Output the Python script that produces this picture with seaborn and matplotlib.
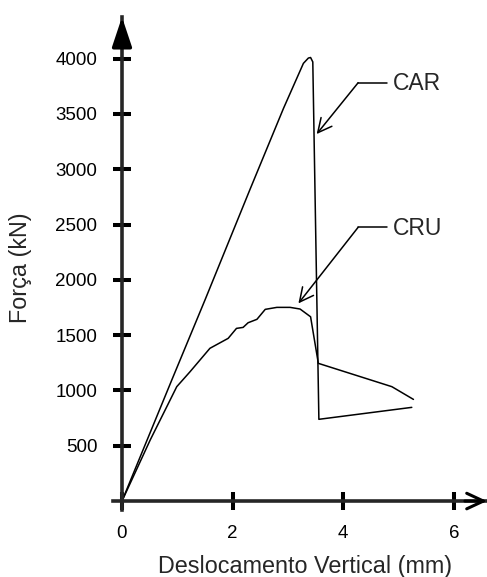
import numpy as np
import pandas as pd
import matplotlib
matplotlib.use('Agg')
import matplotlib.pyplot as plt
import seaborn as sns

# ====== DATA

car_desloc = [0, 0.90, 1.50, 2.31, 2.92, 3.28, 3.37, 3.41, 3.45, 3.56, 5.24]
car_forca = [0, 1094, 1817, 2812, 3550, 3957, 4005, 4010, 3970, 739, 847]

cru_desloc = [0, 0.51, 0.81, 0.99, 1.23, 1.59, 1.92, 2.07, 2.19, 2.28, 2.44,
              2.59, 2.80, 3.04, 3.22, 3.41, 3.55, 4.88, 5.27]
cru_forca = [0, 552, 853, 1034, 1169, 1381, 1471, 1561, 1570, 1612, 1643,
             1733, 1751, 1751, 1736, 1666, 1245, 1034, 919]

x_ticks = [0, 2, 4, 6]
y_ticks = [500, 1000, 1500, 2000, 2500, 3000, 3500, 4000]

# label, arrow tip, elbow of the leader line
annotations = {
    'CAR': {'tip': (3.52, 3318), 'elbow': (4.27, 3782)},
    'CRU': {'tip': (3.19, 1787), 'elbow': (4.27, 2475)},
}

df = pd.concat([
    pd.DataFrame({'desloc': car_desloc, 'forca': car_forca, 'ensaio': 'CAR'}),
    pd.DataFrame({'desloc': cru_desloc, 'forca': cru_forca, 'ensaio': 'CRU'}),
], ignore_index=True)

# ====== PLOT

sns.set_style('white')
plt.rcParams['font.family'] = ['Liberation Sans', 'DejaVu Sans']

fig = plt.figure(figsize=(4.87, 5.77), dpi=100)
ax = fig.add_axes([0.2320, 0.1161, 0.7680, 0.8544])

sns.lineplot(data=df, x='desloc', y='forca', units='ensaio', estimator=None,
             sort=False, color='black', linewidth=1.1, ax=ax, legend=False)

ax.set_xlim(-0.163, 6.60)
ax.set_ylim(-81, 4376)

# axes through the origin
for side in ['top', 'right']:
    ax.spines[side].set_visible(False)
ax.spines['left'].set_position(('data', 0))
ax.spines['bottom'].set_position(('data', 0))
ax.spines['left'].set_linewidth(2.6)
ax.spines['bottom'].set_linewidth(2.6)

ax.set_xticks(x_ticks)
ax.set_yticks(y_ticks)
ax.tick_params(axis='both', direction='inout', length=12.5, width=2.9,
               labelsize=13.5, color='black', labelcolor='black',
               left=True, bottom=True)
ax.tick_params(axis='y', pad=11.5)
ax.tick_params(axis='x', pad=11)

# arrow heads on the axes
ax.annotate('', xy=(0, 4376), xytext=(0, 4100), annotation_clip=False,
            arrowprops=dict(arrowstyle='-|>,head_length=0.9,head_width=0.3',
                            mutation_scale=20, color='black', lw=2.6,
                            shrinkA=0, shrinkB=0))
ax.annotate('', xy=(6.60, 0), xytext=(6.20, 0), annotation_clip=False,
            arrowprops=dict(arrowstyle='->,head_length=0.6,head_width=0.28',
                            mutation_scale=20, color='black', lw=2.2,
                            shrinkA=0, shrinkB=0))

# leader lines and labels
for label, pos in annotations.items():
    ex, ey = pos['elbow']
    ax.plot([ex, 4.79], [ey, ey], color='black', lw=1.1)
    ax.annotate('', xy=pos['tip'], xytext=(ex, ey),
                arrowprops=dict(arrowstyle='->,head_length=0.5,head_width=0.25',
                                mutation_scale=20, color='black', lw=1.1,
                                shrinkA=0, shrinkB=0))
    ax.text(4.90, ey - 10, label, fontsize=16.5, ha='left', va='center')

ax.set_xlabel('Deslocamento Vertical (mm)', fontsize=16.8)
ax.set_ylabel('Força (kN)', fontsize=16.8)
ax.xaxis.set_label_coords(0.513, -0.091)
ax.yaxis.set_label_coords(-0.217, 0.491)

fig.savefig('out.png', dpi=100)
plt.close()
